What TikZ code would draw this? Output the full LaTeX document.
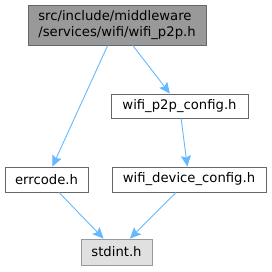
\documentclass[tikz,border=0pt]{standalone}
\usepackage{fontspec}
\setmainfont{DejaVu Sans}
\usetikzlibrary{arrows.meta}
\definecolor{edgeblue}{HTML}{63B8FF}
\definecolor{curfill}{HTML}{999999}
\definecolor{curdraw}{HTML}{666666}
\definecolor{sysfill}{HTML}{E0E0E0}
\definecolor{sysdraw}{HTML}{999999}
\begin{document}
\begin{tikzpicture}[
				x=1pt, y=-1pt,
				filebox/.style={draw=curdraw, line width=0.9pt, fill=white, inner sep=0pt, font=\fontsize{13.2}{15.5}\selectfont},
				curbox/.style={filebox, fill=curfill, draw=curdraw},
				sysbox/.style={filebox, fill=sysfill, draw=sysdraw},
				incl/.style={draw=edgeblue, line width=0.9pt, -{Stealth[length=11pt, width=10pt, inset=2pt]}}
				]
				\useasboundingbox (0,0) rectangle (272,271);
				% files
				\node[curbox, minimum width=178pt, minimum height=40pt, align=left] (p2p) at (117,25) {src/include/middleware\\/services/wifi/wifi\_p2p.h};
				\node[filebox, minimum width=137pt, minimum height=24pt] (p2pcfg) at (179.5,106) {wifi\_p2p\_config.h};
				\node[filebox, minimum width=83pt, minimum height=25pt] (errcode) at (46.5,179.5) {errcode.h};
				\node[filebox, minimum width=154pt, minimum height=25pt] (devcfg) at (189,179.5) {wifi\_device\_config.h};
				\node[sysbox, minimum width=71pt, minimum height=26pt] (stdint) at (116.5,252) {stdint.h};
				% includes
				\draw[incl] (p2p) -- (errcode);
				\draw[incl] (p2p) -- (p2pcfg);
				\draw[incl] (p2pcfg) -- (devcfg);
				\draw[incl] (errcode) -- (stdint);
				\draw[incl] (devcfg) -- (stdint);
			\end{tikzpicture}
\end{document}
